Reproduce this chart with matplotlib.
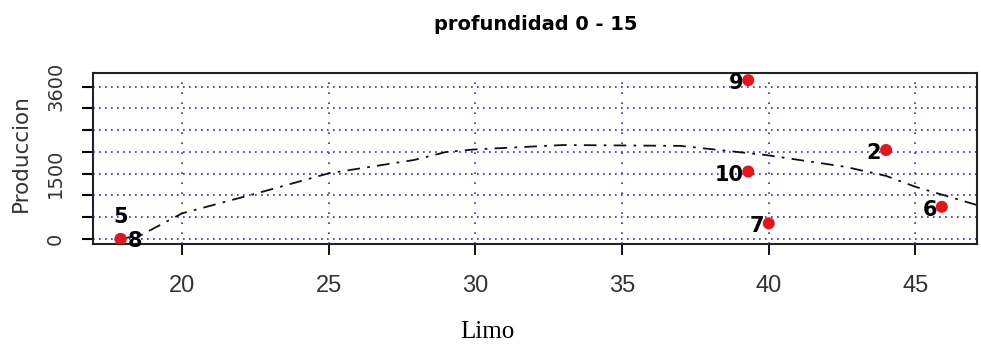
import matplotlib
matplotlib.use("Agg")
import matplotlib.pyplot as plt

# ---- data ----
limo = [17.9, 17.9, 39.3, 44.0, 39.3, 40.0, 45.9]
produccion = [0, 0, 3650, 2045, 1550, 360, 740]
ids = ["5", "8", "9", "2", "10", "7", "6"]

curve_x = [17.9, 18.6, 20.0, 22.6, 25.0, 27.9, 29.0, 30.0, 33.0, 37.0, 39.9, 42.6, 44.0, 45.0, 46.0, 47.1]
curve_y = [0, 90, 590, 1060, 1510, 1815, 2000, 2060, 2160, 2140, 1930, 1660, 1450, 1200, 1000, 780]

x_ticks = [20, 25, 30, 35, 40, 45]
y_ticks = [0, 500, 1000, 1500, 2000, 2500, 3000, 3500]
y_tick_labels = ["0", "", "", "1500", "", "", "", "3600"]

title = "profundidad 0 - 15"
xlabel = "Limo"
ylabel = "Produccion"

# label placement: (dx px, dy px, ha, va)
label_pos = {"5": (0, 12, "center", "bottom"), "8": (7, -2, "left", "center")}

fig = plt.figure(figsize=(9.81, 3.51), dpi=100)
ax = fig.add_axes([93/981, 1-244/351, (977-93)/981, (244-73)/351])

ax.set_xlim(16.96, 47.1)
ax.set_ylim(-115, 3815)

grid_c = "#2e2ed0"
for yv in y_ticks:
    ax.axhline(yv, color=grid_c, lw=1.2, ls=(0, (1.0, 2.6)), zorder=1)
for xv in x_ticks:
    ax.axvline(xv, color=grid_c, lw=1.2, ls=(0, (1.0, 5)), zorder=1)

ax.plot(curve_x, curve_y, color="#111111", lw=1.3, ls=(0, (7, 4, 1.5, 4)), zorder=2)

ax.scatter(limo, produccion, s=75, color="#e8141c", edgecolors="none", zorder=3)

for x, y, t in zip(limo, produccion, ids):
    dx, dy, ha, va = label_pos.get(t, (-5, -3, "right", "center"))
    ax.annotate(t, (x, y), xytext=(dx * 0.72, dy * 0.72), textcoords="offset points",
                ha=ha, va=va, fontsize=15, fontweight="bold", color="black",
                family="DejaVu Sans", zorder=4)

for s in ax.spines.values():
    s.set_linewidth(1.5)
    s.set_color("#222222")

ax.set_xticks(x_ticks)
ax.set_xticklabels([str(v) for v in x_ticks], family="Liberation Sans", fontsize=17, color="#333333")
ax.set_yticks(y_ticks)
ax.set_yticklabels(y_tick_labels, rotation=90, va="center", fontsize=14, color="#333333",
                   family="DejaVu Sans")
ax.tick_params(axis="x", length=8, width=1.3, pad=14, direction="out")
ax.tick_params(axis="y", length=8, width=1.5, pad=12, direction="out")

fig.text(536/981, 1-25/351, title, ha="center", va="center", fontsize=14,
         fontweight="bold", family="DejaVu Sans")
fig.text(487/981, 1-332/351, xlabel, ha="center", va="center", fontsize=18,
         family="Liberation Serif")
fig.text(21/981, 1-153/351, ylabel, ha="center", va="center", rotation=90,
         fontsize=15.5, family="DejaVu Sans", color="#333333")

fig.savefig("out.png", dpi=100)
